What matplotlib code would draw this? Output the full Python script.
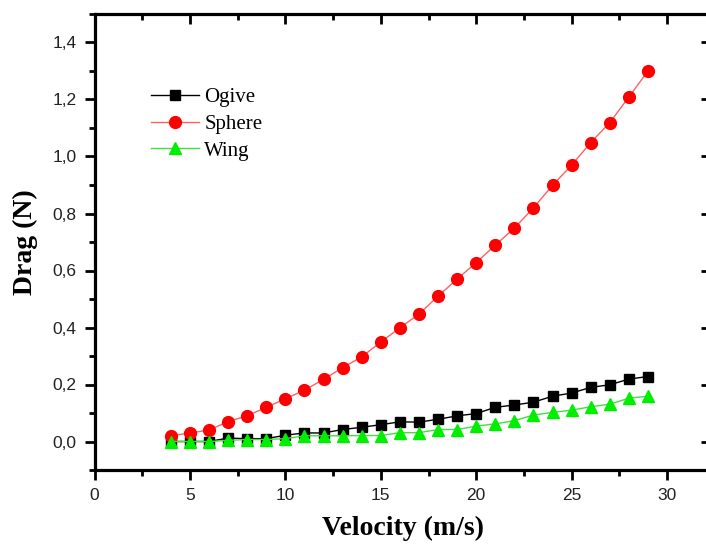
import matplotlib
matplotlib.use("Agg")
import matplotlib.pyplot as plt
from matplotlib.ticker import MultipleLocator, FuncFormatter

velocity = [4, 5, 6, 7, 8, 9, 10, 11, 12, 13, 14, 15, 16, 17, 18, 19, 20, 21, 22, 23, 24, 25, 26, 27, 28, 29]
ogive = [0.0, 0.0, 0.0, 0.012, 0.01, 0.01, 0.022, 0.03, 0.03, 0.042, 0.05, 0.059, 0.069, 0.068, 0.078, 0.09,
         0.098, 0.12, 0.128, 0.138, 0.159, 0.17, 0.19, 0.199, 0.219, 0.228]
sphere = [0.02, 0.03, 0.04, 0.07, 0.09, 0.12, 0.15, 0.18, 0.218, 0.259, 0.297, 0.349, 0.399, 0.447, 0.51, 0.57,
          0.628, 0.689, 0.749, 0.82, 0.899, 0.97, 1.049, 1.119, 1.209, 1.30]
wing = [0.0, 0.0, 0.0, 0.004, 0.007, 0.007, 0.01, 0.02, 0.02, 0.02, 0.021, 0.021, 0.031, 0.031, 0.042, 0.042,
        0.054, 0.062, 0.073, 0.093, 0.102, 0.11, 0.122, 0.131, 0.152, 0.159]
series_names = ["Ogive", "Sphere", "Wing"]

fig = plt.figure(figsize=(7.06, 5.44), dpi=100)
W, H = 706, 544
x0, x1 = 94.5, 711.0
y0, y1 = 470.0, 14.0
ax = fig.add_axes([x0 / W, (H - y0) / H, (x1 - x0) / W, (y0 - y1) / H])

ax.plot(velocity, ogive, color="black", lw=1.0, marker="s", ms=7, mfc="black", mec="black",
        label=series_names[0], zorder=3)
ax.plot(velocity, sphere, color="#ff6060", lw=1.0, marker="o", ms=8.5, mfc="red", mec="red",
        label=series_names[1], zorder=3)
ax.plot(velocity, wing, color="#40e040", lw=1.0, marker="^", ms=8.5, mfc="#00ee00", mec="#00ee00",
        label=series_names[2], zorder=4)

ax.set_xlim(0, 32.3)
ax.set_ylim(-0.1, 1.5)
ax.xaxis.set_major_locator(MultipleLocator(5))
ax.xaxis.set_minor_locator(MultipleLocator(2.5))
ax.yaxis.set_major_locator(MultipleLocator(0.2))
ax.yaxis.set_minor_locator(MultipleLocator(0.1))
ax.yaxis.set_major_formatter(FuncFormatter(lambda v, p: f"{v:.1f}".replace(".", ",").replace("-0,0", "0,0")))
ax.xaxis.set_major_formatter(FuncFormatter(lambda v, p: f"{v:g}"))

for s in ax.spines.values():
    s.set_linewidth(2.3)

ax.tick_params(axis="both", which="major", direction="out", length=7, width=2.0,
               labelsize=12.5, pad=6, top=True, right=True)
ax.tick_params(axis="both", which="minor", direction="out", length=4, width=2.0, top=True)
ax.tick_params(axis="y", which="minor", right=False)
ax.tick_params(axis="x", which="both", top=True, labeltop=False)
# top and right ticks point inward
for t in ax.xaxis.get_major_ticks() + ax.xaxis.get_minor_ticks():
    t.tick2line.set_marker(3)  # TICKDOWN
for t in ax.yaxis.get_major_ticks():
    t.tick2line.set_marker(0)  # TICKLEFT

for lbl in ax.get_xticklabels() + ax.get_yticklabels():
    lbl.set_family("Liberation Sans")
    lbl.set_color("#222222")

ax.set_xlabel("Velocity (m/s)", family="Liberation Serif", fontweight="bold", fontsize=20, labelpad=9)
ax.set_ylabel("Drag (N)", family="Liberation Serif", fontweight="bold", fontsize=20, labelpad=10)

leg = ax.legend(loc="upper left", bbox_to_anchor=(0.075, 0.862), frameon=False,
                prop={"family": "Liberation Serif", "size": 15}, handlelength=2.3,
                handletextpad=0.25, labelspacing=0.35, borderpad=0)

fig.savefig("out.png", dpi=100)
